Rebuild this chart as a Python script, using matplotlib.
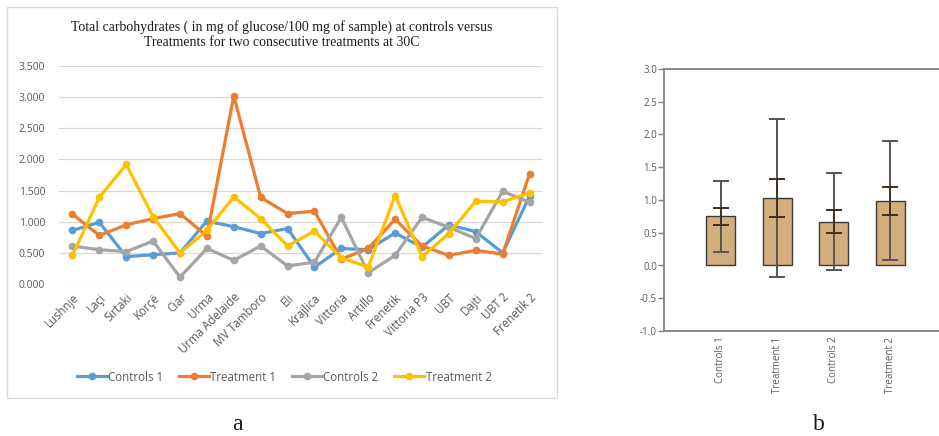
import matplotlib
matplotlib.use("Agg")
import matplotlib.pyplot as plt
from matplotlib.patches import Rectangle

# ---- panel a data (line chart) ----
samples = ["Lushnje", "Laçi", "Sirtaki", "Korçë", "Ciar", "Urma", "Urma Adelaide",
           "MV Tamboro", "Eli", "Krajlica", "Vittoria", "Artillo", "Frenetik",
           "Vittoria P3", "UBT", "Dajti", "UBT 2", "Frenetik 2"]
controls_1 = [0.86, 0.99, 0.44, 0.47, 0.50, 1.01, 0.92, 0.81, 0.89, 0.27,
              0.57, 0.55, 0.82, 0.59, 0.95, 0.84, 0.50, 1.41]
treatment_1 = [1.12, 0.78, 0.95, 1.05, 1.13, 0.77, 3.02, 1.39, 1.13, 1.17,
               0.40, 0.57, 1.04, 0.61, 0.46, 0.54, 0.48, 1.77]
controls_2 = [0.61, 0.55, 0.52, 0.69, 0.11, 0.57, 0.38, 0.61, 0.29, 0.35,
              1.07, 0.18, 0.46, 1.07, 0.91, 0.73, 1.49, 1.31]
treatment_2 = [0.46, 1.39, 1.92, 1.08, 0.50, 0.86, 1.40, 1.05, 0.61, 0.85,
               0.42, 0.27, 1.42, 0.44, 0.81, 1.33, 1.32, 1.46]
series_names = ["Controls 1", "Treatment 1", "Controls 2", "Treatment 2"]
series_colors = ["#5B9BD5", "#ED7D31", "#A5A5A5", "#FFC000"]

# ---- panel b data (bar chart with two error bars) ----
groups = ["Controls 1", "Treatment 1", "Controls 2", "Treatment 2"]
group_means = [0.75, 1.03, 0.67, 0.99]
group_sd = [0.54, 1.21, 0.745, 0.91]
group_ci = [0.13, 0.29, 0.175, 0.215]

W, H = 939, 436
fig = plt.figure(figsize=(W / 100, H / 100), dpi=100)


def box(x0, y_top, x1, y_bot):
    return [x0 / W, 1 - y_bot / H, (x1 - x0) / W, (y_bot - y_top) / H]


# frame around panel a
fig.patches.append(Rectangle((7 / W, 1 - 398 / H), 550 / W, 391 / H,
                             transform=fig.transFigure, fill=False,
                             edgecolor="#d9d9d9", linewidth=1))

ax = fig.add_axes(box(59, 66, 543, 284))
x = list(range(len(samples)))
for vals, name, col in zip([controls_1, treatment_1, controls_2, treatment_2],
                           series_names, series_colors):
    ax.plot(x, vals, color=col, linewidth=2.3, marker="o", markersize=4.5,
            label=name)
ax.set_xlim(-0.5, len(samples) - 0.5)
ax.set_ylim(0, 3.5)
ax.set_yticks([i * 0.5 for i in range(8)])
ax.set_yticklabels([f"{i * 0.5:.3f}" for i in range(8)])
ax.grid(axis="y", color="#d9d9d9", linewidth=0.9)
ax.set_axisbelow(True)
for s in ax.spines.values():
    s.set_visible(False)
ax.tick_params(axis="both", length=0, colors="#595959", labelsize=7.5)
ax.tick_params(axis="y", pad=10)
ax.set_xticks(x)
ax.set_xticklabels(samples, rotation=45, ha="right", rotation_mode="anchor",
                   fontsize=8.3)
ax.tick_params(axis="x", pad=5)
for lab in ax.get_yticklabels() + ax.get_xticklabels():
    lab.set_family("Open Sans")

fig.text(282 / W, 1 - 35 / H,
         "Total carbohydrates ( in mg of glucose/100 mg of sample) at controls versus\n"
         "Treatments for two consecutive treatments at 30C",
         ha="center", va="center", family="Liberation Serif", fontsize=9.9,
         linespacing=1.2, color="#1a1a1a")

leg = fig.legend(loc="center", bbox_to_anchor=(284 / W, 1 - 377 / H), ncol=4,
                 frameon=False, handlelength=2.6, columnspacing=1.4,
                 handletextpad=0.1, prop={"family": "Open Sans", "size": 8.3})
for t in leg.get_texts():
    t.set_color("#595959")

# ---- panel b ----
bx = fig.add_axes(box(664, 69, 947, 331))
pos = list(range(len(groups)))
bx.bar(pos, group_means, width=0.51, color="#D4AD7C", edgecolor="#3a3a3a",
       linewidth=1.0, zorder=2)
bx.errorbar(pos, group_means, yerr=group_sd, fmt="none", ecolor="#555555",
            elinewidth=1.4, capsize=5.5, capthick=1.4, zorder=3)
bx.errorbar(pos, group_means, yerr=group_ci, fmt="none", ecolor="#3d2e1e",
            elinewidth=1.2, capsize=5.5, capthick=1.4, zorder=4)
bx.set_xlim(-1, 4)
bx.set_ylim(-1, 3)
bx.set_yticks([-1 + 0.5 * i for i in range(9)])
bx.set_yticklabels([f"{-1 + 0.5 * i:.1f}" for i in range(9)])
bx.set_xticks(pos)
bx.set_xticklabels(groups, rotation=90, va="top", fontsize=7)
for s in bx.spines.values():
    s.set_color("#7f7f7f")
    s.set_linewidth(1.3)
bx.tick_params(axis="y", direction="out", length=4, width=1, colors="#7f7f7f",
               labelsize=7, labelcolor="#595959", pad=1)
bx.tick_params(axis="x", length=0, labelcolor="#595959", pad=4)
for lab in bx.get_yticklabels() + bx.get_xticklabels():
    lab.set_family("Open Sans")

fig.text(237 / W, 1 - 424 / H, "a", ha="center", va="center",
         family="Liberation Serif", fontsize=17, color="#1a1a1a")
fig.text(819 / W, 1 - 424 / H, "b", ha="center", va="center",
         family="Liberation Serif", fontsize=17, color="#1a1a1a")

fig.savefig("out.png", dpi=100)
